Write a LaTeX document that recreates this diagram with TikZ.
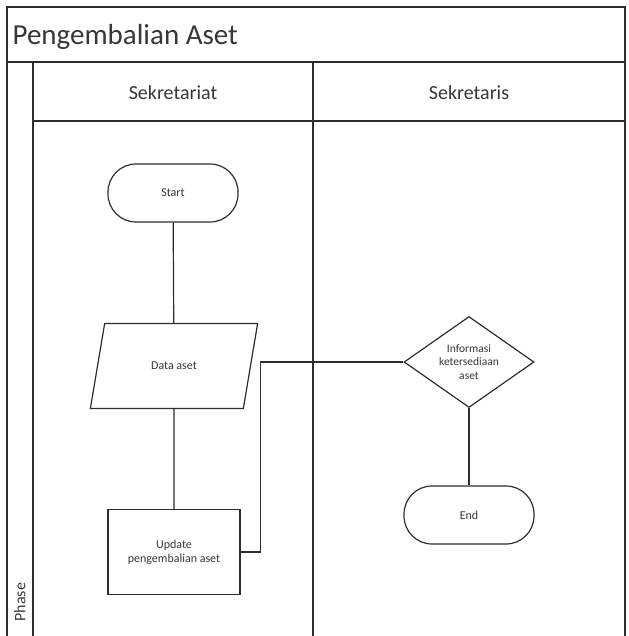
\documentclass[tikz,border=0pt]{standalone}
\usepackage{fontspec}
\setmainfont{Carlito}
\usetikzlibrary{positioning,shapes.geometric}
\definecolor{linegray}{RGB}{45,45,45}
\definecolor{textgray}{RGB}{55,55,55}

\begin{document}
\begin{tikzpicture}[x=1pt,y=-1pt,line width=1.2pt,draw=linegray,
    every node/.style={font=\fontsize{12}{14}\selectfont,text=textgray,align=center,inner sep=2pt},
    terminal/.style={draw=linegray,fill=white,rounded corners=28pt,minimum width=130pt,minimum height=58pt},
    datain/.style={draw=linegray,fill=white,trapezium,trapezium left angle=66.5,trapezium right angle=113.5,trapezium stretches=true,minimum width=168pt,minimum height=85pt},
    process/.style={draw=linegray,fill=white,minimum width=132pt,minimum height=85pt},
    decision/.style={draw=linegray,fill=white,diamond,shape aspect=1.4,inner sep=0pt,minimum width=130pt,minimum height=91pt,font=\fontsize{11.5}{13.5}\selectfont},
    lanehead/.style={font=\fontsize{20}{24}\selectfont}]
    \useasboundingbox (0,0) rectangle (628,636);
    % pool and lanes
    \draw (7,636) -- (7,7) -- (625,7) -- (625,636);
    \draw (7,62) -- (625,62);
    \draw (33,121) -- (625,121);
    \draw (33,62) -- (33,636);
    \draw (313,62) -- (313,636);
    \node[anchor=west,font=\fontsize{29}{34}\selectfont] (title) at (10,37) {Pengembalian Aset};
    \node[lanehead] (lanea) at (173,93) {Sekretariat};
    \node[lanehead] (laneb) at (469,93) {Sekretaris};
    \node[rotate=90,anchor=west,font=\fontsize{16}{18}\selectfont] (phase) at (20,624) {Phase};
    % flow
    \node[terminal] (start) at (173,193) {Start};
    \node[datain] (data) at (174,366) {Data aset};
    \node[process] (upd) at (174,552) {Update\\pengembalian aset};
    \node[decision,text width=72pt] (info) at (469,362) {Informasi\\ketersediaan\\aset};
    \node[terminal] (end) at (469,515) {End};
    \draw (start) -- (data);
    \draw (data) -- (upd);
    \draw (upd.east) -- ++(20,0) |- (info.west);
    \draw (info) -- (end);
  \end{tikzpicture}
\end{document}
